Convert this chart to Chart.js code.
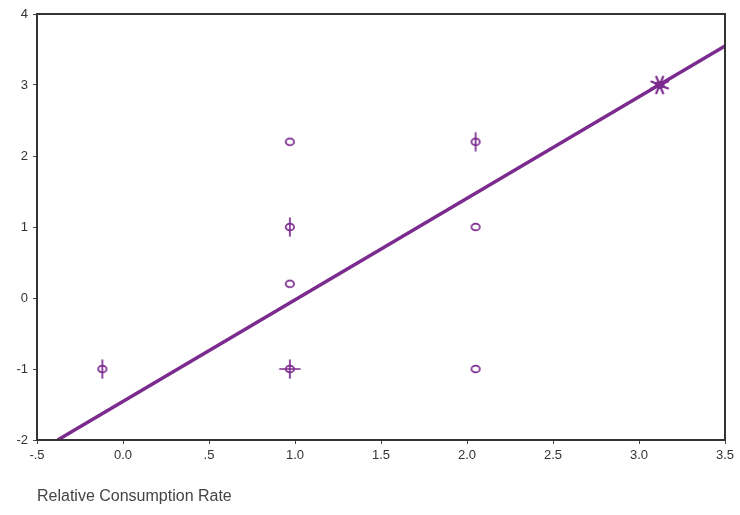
<!DOCTYPE html>
<html>
<head>
<meta charset="utf-8">
<script src="https://cdn.jsdelivr.net/npm/chart.js@4"></script>
<style>
  html, body { margin: 0; padding: 0; background: #fff; }
  #wrap { width: 740px; height: 515px; position: relative; }
</style>
</head>
<body>
<div id="wrap"><canvas id="chart" width="740" height="515"></canvas></div>
<script>
// sunflower points: x, y, number of observations at that spot
const pointX = [-0.12, 0.97, 0.97, 0.97, 0.97, 2.05, 2.05, 2.05, 3.12];
const pointY = [-1.0, 2.2, 1.0, 0.2, -1.0, 2.2, 1.0, -1.0, 3.0];
const pointCount = [2, 1, 2, 1, 4, 2, 1, 1, 8];

// fitted line end points
const lineX = [-0.38, 3.5];
const lineY = [-2.0, 3.55];

const xTickLabels = ["-.5", "0.0", ".5", "1.0", "1.5", "2.0", "2.5", "3.0", "3.5"];
const yTickLabels = ["-2", "-1", "0", "1", "2", "3", "4"];

const PURPLE = "#7b2b8e";

// build a sunflower glyph: circle + one petal per extra observation
function makeGlyph(n) {
  const c = document.createElement("canvas");
  c.width = 26; c.height = 26;
  const g = c.getContext("2d");
  g.translate(13, 13);
  g.strokeStyle = PURPLE;
  g.lineCap = "round";
  if (n >= 6) {
    // dense spot: asterisk with filled centre
    g.lineWidth = 2.2;
    for (let i = 0; i < n; i++) {
      const a = Math.PI * 2 * i / n + Math.PI / 8;
      g.beginPath();
      g.moveTo(0, 0);
      g.lineTo(Math.cos(a) * 9, Math.sin(a) * 9);
      g.stroke();
    }
    g.fillStyle = PURPLE;
    g.beginPath();
    g.ellipse(0, 0, 5, 4, 0, 0, Math.PI * 2);
    g.fill();
    return c;
  }
  g.lineWidth = 1.7;
  if (n >= 2) {
    g.beginPath();
    g.moveTo(0, -9); g.lineTo(0, 9);
    g.stroke();
  }
  if (n >= 4) {
    g.beginPath();
    g.moveTo(-10, 0); g.lineTo(10, 0);
    g.stroke();
  }
  g.beginPath();
  g.ellipse(0, 0, 4.2, 3.4, 0, 0, Math.PI * 2);
  g.stroke();
  return c;
}

const glyphs = pointCount.map(makeGlyph);

const frame = {
  id: "frame",
  afterDraw(chart) {
    const { ctx, chartArea: a } = chart;
    ctx.save();
    ctx.strokeStyle = "#333";
    ctx.lineWidth = 2;
    ctx.strokeRect(a.left, a.top, a.right - a.left, a.bottom - a.top);
    ctx.restore();
  }
};

new Chart(document.getElementById("chart"), {
  type: "scatter",
  data: {
    datasets: [
      {
        type: "line",
        data: lineX.map((x, i) => ({ x: x, y: lineY[i] })),
        borderColor: PURPLE,
        borderWidth: 3.5,
        pointRadius: 0,
        fill: false
      },
      {
        data: pointX.map((x, i) => ({ x: x, y: pointY[i] })),
        pointStyle: glyphs,
        pointRadius: 10
      }
    ]
  },
  options: {
    responsive: false,
    animation: false,
    layout: { padding: { left: 0, right: 15, top: 14, bottom: 5 } },
    plugins: { legend: { display: false }, tooltip: { enabled: false } },
    scales: {
      x: {
        type: "linear",
        min: -0.5, max: 3.5,
        afterFit: s => { s.height = 70; },
        ticks: {
          stepSize: 0.5,
          color: "#333",
          font: { family: "Liberation Sans, Arial", size: 13 },
          padding: 4,
          maxRotation: 0,
          callback: (v, i) => xTickLabels[i]
        },
        grid: { drawOnChartArea: false, tickLength: 4, color: "#444" },
        border: { display: false },
        title: {
          display: true,
          text: "Relative Consumption Rate",
          align: "start",
          color: "#444",
          font: { family: "Liberation Sans, Arial", size: 16 },
          padding: { top: 30 }
        }
      },
      y: {
        type: "linear",
        min: -2, max: 4,
        afterFit: s => { s.width = 37; },
        ticks: {
          stepSize: 1,
          color: "#333",
          font: { family: "Liberation Sans, Arial", size: 13 },
          padding: 5,
          callback: (v, i) => yTickLabels[i]
        },
        grid: { drawOnChartArea: false, tickLength: 4, color: "#444" },
        border: { display: false }
      }
    }
  },
  plugins: [frame]
});
</script>
</body>
</html>
